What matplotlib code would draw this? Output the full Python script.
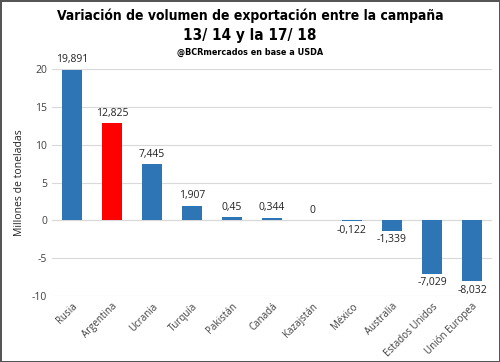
import matplotlib.pyplot as plt

paises = ["Rusia", "Argentina", "Ucrania", "Turquía", "Pakistán", "Canadá",
          "Kazajstán", "México", "Australia", "Estados Unidos", "Unión Europea"]
variacion = [19.891, 12.825, 7.445, 1.907, 0.45, 0.344, 0.0, -0.122, -1.339, -7.029, -8.032]
etiquetas = ["19,891", "12,825", "7,445", "1,907", "0,45", "0,344", "0",
             "-0,122", "-1,339", "-7,029", "-8,032"]
colores = ["#2E75B6", "#FF0000"] + ["#2E75B6"] * 9

plt.rcParams['font.family'] = ['Open Sans', 'DejaVu Sans']
plt.rcParams['axes.unicode_minus'] = False

fig = plt.figure(figsize=(5, 3.62), dpi=100)
fig.patch.set_edgecolor("#555555")
fig.patch.set_linewidth(2)
ax = fig.add_axes([0.104, 0.182, 0.88, 0.627])

ax.bar(range(len(paises)), variacion, width=0.5, color=colores, zorder=3)
ax.set_xlim(-0.5, len(paises) - 0.5)
ax.set_ylim(-10, 20)
ax.set_yticks(range(-10, 21, 5))
ax.grid(axis='y', color="#d9d9d9", linewidth=0.8, zorder=0)
ax.axhline(0, color="#d9d9d9", linewidth=0.8, zorder=1)
for s in ax.spines.values():
    s.set_visible(False)
ax.tick_params(length=0, labelsize=7.5, colors="#404040")
ax.set_xticks(range(len(paises)))
ax.set_xticklabels(paises, rotation=45, ha='right', rotation_mode='anchor', fontsize=7)
ax.set_ylabel("Millones de toneladas", fontsize=7.5, color="#222222", labelpad=5)

for i, (v, t) in enumerate(zip(variacion, etiquetas)):
    if v > 0 or t == "0":
        ax.text(i, v + 0.6, t, ha='center', va='bottom', fontsize=7.5, color="#222222")
    else:
        ax.text(i, v - 0.5, t, ha='center', va='top', fontsize=7.5, color="#222222")

tfont = dict(family='DejaVu Sans', stretch='condensed', fontweight='bold')
fig.text(0.5, 0.957, "Variación de volumen de exportación entre la campaña",
         ha='center', va='center', fontsize=10, **tfont)
fig.text(0.5, 0.902, "13/ 14 y la 17/ 18", ha='center', va='center', fontsize=11, **tfont)
fig.text(0.5, 0.856, "@BCRmercados en base a USDA", ha='center', va='center',
         fontsize=6.5, **tfont)

fig.savefig("out.png", dpi=100)
